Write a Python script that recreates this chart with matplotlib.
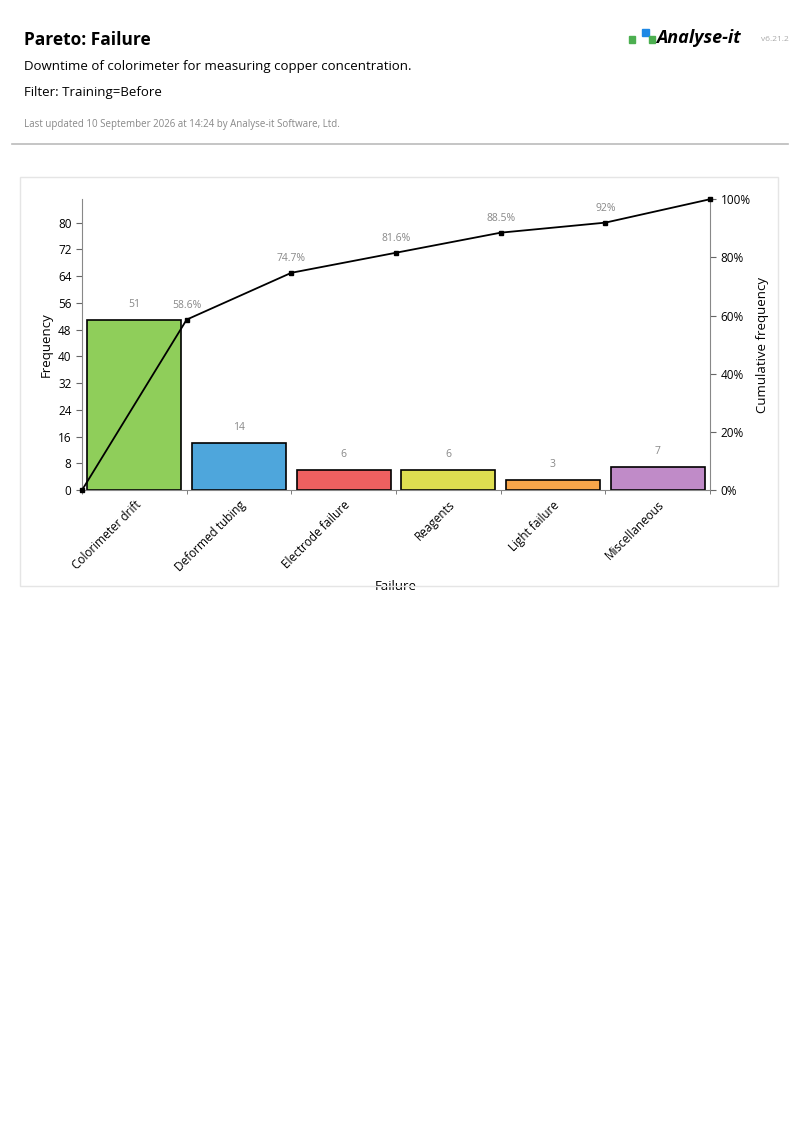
import numpy as np
import matplotlib.pyplot as plt
from matplotlib.patches import Rectangle

plt.rcParams['font.family'] = ['Open Sans', 'DejaVu Sans']

categories = ['Colorimeter drift', 'Deformed tubing', 'Electrode failure',
              'Reagents', 'Light failure', 'Miscellaneous']
freq = [51, 14, 6, 6, 3, 7]
colors = ['#8fce5a', '#4ea6dc', '#ee6060', '#dede50', '#f7a54a', '#c08bc8']
cum_labels = ['58.6%', '74.7%', '81.6%', '88.5%', '92%', '']

total = sum(freq)
cum = np.concatenate([[0], np.cumsum(freq)])

fig = plt.figure(figsize=(8, 11.32), dpi=100)

# header
fig.text(0.03, 0.965, 'Pareto: Failure', fontsize=12.5, fontweight='bold', va='center')
fig.text(0.03, 0.941, 'Downtime of colorimeter for measuring copper concentration.', fontsize=9.5, va='center')
fig.text(0.03, 0.918, 'Filter: Training=Before', fontsize=9.5, va='center')
fig.text(0.03, 0.890, 'Last updated 10 September 2026 at 14:24 by Analyse-it Software, Ltd.',
         fontsize=7, color='#888888', va='center')
fig.text(0.82, 0.966, 'Analyse-it', fontsize=13, fontweight='bold', style='italic', va='center')
fig.text(0.951, 0.965, 'v6.21.2', fontsize=6, color='#aaaaaa', va='center')
fig.patches.append(Rectangle((0.786, 0.962), 0.008, 0.006, color='#4caf50', transform=fig.transFigure))
fig.patches.append(Rectangle((0.803, 0.968), 0.008, 0.006, color='#1e88e5', transform=fig.transFigure))
fig.patches.append(Rectangle((0.811, 0.962), 0.008, 0.006, color='#4caf50', transform=fig.transFigure))
fig.add_artist(plt.Line2D([0.015, 0.985], [0.873, 0.873], color='#bbbbbb', lw=1.2, transform=fig.transFigure))
fig.patches.append(Rectangle((0.025, 0.482), 0.948, 0.362, fill=False, ec='#e5e5e5', lw=1,
                             transform=fig.transFigure))

ax = fig.add_axes([0.1025, 0.567, 0.785, 0.257])
x = np.arange(len(freq))
ax.bar(x + 0.5, freq, width=0.9, color=colors, edgecolor='black', linewidth=1.2, zorder=2)
for xi, f in zip(x, freq):
    ax.text(xi + 0.5, f + 3, str(f), ha='center', va='bottom', fontsize=7.5, color='#888888')
ax.set_xlim(0, len(freq))
ax.set_ylim(0, total)
ax.set_yticks(np.arange(0, 81, 8))
ax.set_xticks(x + 0.5)
ax.set_xticklabels(categories, rotation=45, ha='right', rotation_mode='anchor', fontsize=8.5)
ax.set_xticks(np.arange(0, len(freq) + 1), minor=True)
ax.tick_params(axis='x', which='major', length=0, pad=6)
ax.tick_params(axis='x', which='minor', length=3, color='#666666')
ax.tick_params(axis='y', labelsize=8.5, length=4, color='#666666')
ax.set_ylabel('Frequency', fontsize=9.5)
ax.set_xlabel('Failure', fontsize=9.5)
for s in ['top', 'right']:
    ax.spines[s].set_visible(False)
ax.spines['left'].set_color('#888888')
ax.spines['bottom'].set_color('#888888')

ax2 = ax.twinx()
ax2.plot(np.arange(len(cum)), cum / total * 100, color='black', lw=1.3, marker='s', ms=3.5, zorder=3, clip_on=False)
for xi, c, lab in zip(x + 1, cum[1:], cum_labels):
    ax2.text(xi, c / total * 100 + 3, lab, ha='center', va='bottom', fontsize=7.5, color='#888888')
ax2.set_ylim(0, 100)
ax2.set_yticks([0, 20, 40, 60, 80, 100])
ax2.set_yticklabels(['0%', '20%', '40%', '60%', '80%', '100%'])
ax2.tick_params(axis='y', labelsize=8.5, length=4, color='#666666')
ax2.set_ylabel('Cumulative frequency', fontsize=9.5)
for s in ['top', 'left', 'bottom']:
    ax2.spines[s].set_visible(False)
ax2.spines['right'].set_color('#888888')

fig.savefig('out.png', dpi=100)
